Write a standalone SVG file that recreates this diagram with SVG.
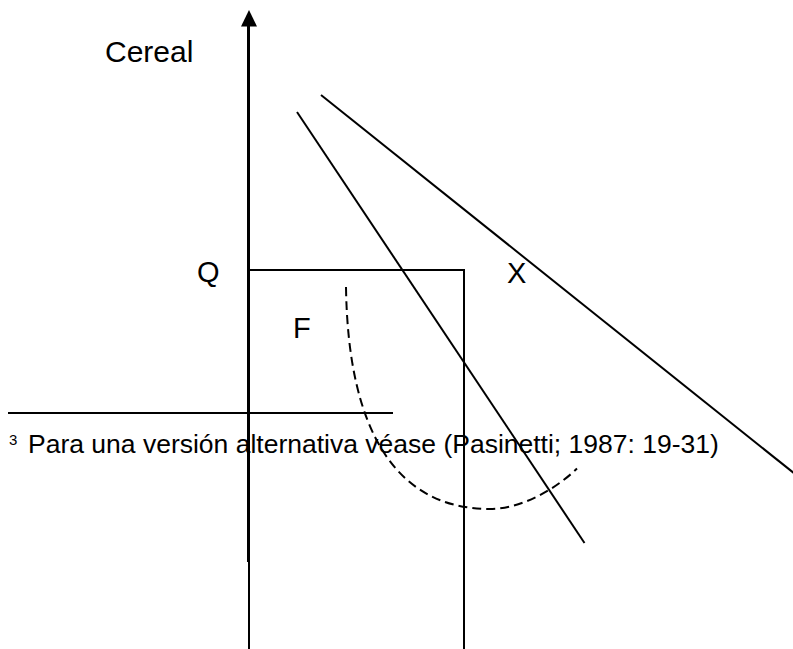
<svg xmlns="http://www.w3.org/2000/svg" width="793" height="649" viewBox="0 0 793 649">
<style>
  .ln { stroke: #000; fill: none; stroke-width: 2; }
  .ax { stroke: #000; fill: none; stroke-width: 3; }
  .dash { stroke: #000; fill: none; stroke-width: 2; stroke-dasharray: 9 5; }
  .lbl { font-family: "Liberation Sans", Arial, sans-serif; fill: #000; }
</style>
<rect width="793" height="649" fill="#fff"/>
<g id="connectors">
  <line class="ax" x1="248.5" y1="24" x2="248.5" y2="562"/>
  <polygon points="249,10 241,26.5 257,26.5" fill="#000"/>
  <line class="ln" x1="8" y1="413" x2="393" y2="413"/>
  <line class="ln" x1="297" y1="112" x2="584.5" y2="543"/>
  <line class="ln" x1="321" y1="95" x2="800" y2="478"/>
</g>
<g id="rect-F">
  <polyline class="ln" points="249,649 249,270 464,270 464,649"/>
</g>
<g id="arc">
  <path class="dash" d="M346,287 C348,431 396,509 490,509 C520,509 555,490 577,468.5"/>
</g>
<g id="labels">
  <text class="lbl" x="105" y="62" font-size="30">Cereal</text>
  <text class="lbl" x="197" y="282" font-size="29">Q</text>
  <text class="lbl" x="293" y="338" font-size="29">F</text>
  <text class="lbl" x="507" y="283" font-size="29">X</text>
</g>
<g id="footnote">
  <text class="lbl" x="9" y="445" font-size="15">3</text>
  <text class="lbl" x="28" y="453" font-size="26.5">Para una versión alternativa véase (Pasinetti; 1987: 19-31)</text>
</g>
</svg>
